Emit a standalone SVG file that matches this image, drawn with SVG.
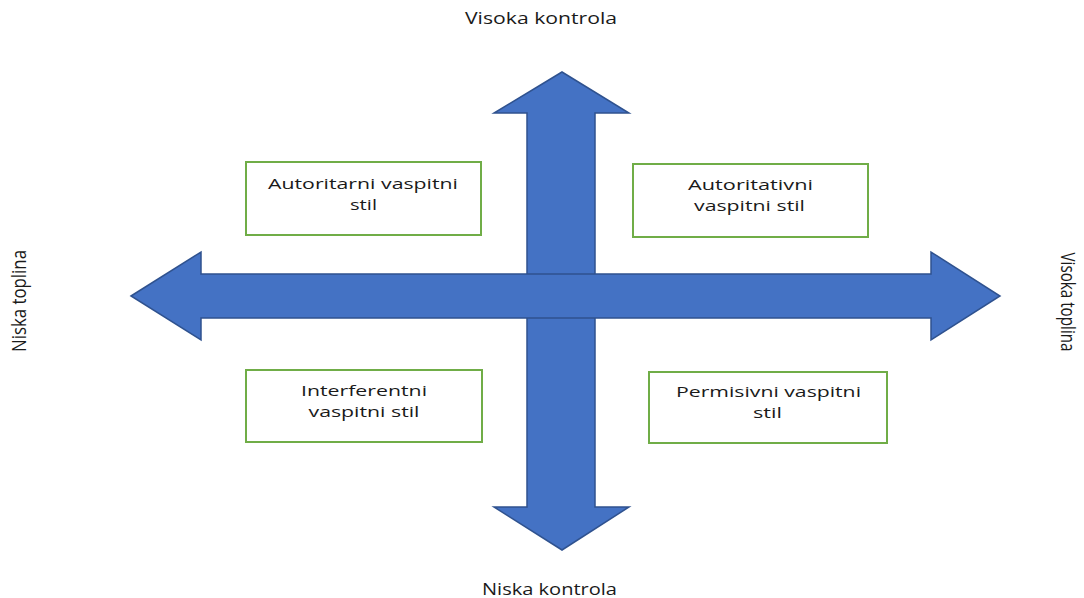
<svg xmlns="http://www.w3.org/2000/svg" width="1084" height="598" viewBox="0 0 1084 598">
<style>
.arrow{fill:#4472C4;stroke:#2F528F;stroke-width:1.5;stroke-linejoin:miter}
.box{fill:#FFFFFF;stroke:#70AD47;stroke-width:2}
.t{font-family:"Open Sans","Noto Sans",sans-serif;font-size:16.5px;fill:#1a1a1a;text-anchor:middle}
.b{font-family:"Open Sans","Noto Sans",sans-serif;font-size:15px;fill:#1a1a1a;text-anchor:middle}
.v{font-family:"Open Sans","Noto Sans",sans-serif;font-size:16px;fill:#1a1a1a;text-anchor:middle}
</style>
<rect width="1084" height="598" fill="#FFFFFF"/>
<g id="connectors">
<polygon class="arrow" points="562,72 629,113 595,113 595,507 629,507 562,550 494,507 527,507 527,113 494,113"/>
<polygon class="arrow" points="131,296 201,252 201,274 931,274 931,252 1000,296 931,340 931,318 201,318 201,340"/>
</g>
<g id="label-top"><text class="t" x="541" y="24" textLength="152" lengthAdjust="spacingAndGlyphs">Visoka kontrola</text></g>
<g id="label-bottom"><text class="t" x="549.5" y="595" textLength="135" lengthAdjust="spacingAndGlyphs">Niska kontrola</text></g>
<g id="label-left"><text class="v" transform="translate(26,301) scale(1.25,1) rotate(-90)" textLength="102" lengthAdjust="spacingAndGlyphs">Niska toplina</text></g>
<g id="label-right"><text class="v" transform="translate(1061,302) scale(1.2,1) rotate(90)" textLength="99" lengthAdjust="spacingAndGlyphs">Visoka toplina</text></g>
<g id="box-autoritarni">
<rect class="box" x="246" y="162" width="235" height="73"/>
<text class="b" x="363" y="188.5" textLength="190" lengthAdjust="spacingAndGlyphs">Autoritarni vaspitni</text>
<text class="b" x="363.5" y="209.5" textLength="27" lengthAdjust="spacingAndGlyphs">stil</text>
</g>
<g id="box-autoritativni">
<rect class="box" x="633" y="164" width="235" height="73"/>
<text class="b" x="750.5" y="189.5" textLength="125" lengthAdjust="spacingAndGlyphs">Autoritativni</text>
<text class="b" x="749.5" y="210.5" textLength="111" lengthAdjust="spacingAndGlyphs">vaspitni stil</text>
</g>
<g id="box-interferentni">
<rect class="box" x="246" y="370" width="236" height="72"/>
<text class="b" x="364" y="395.5" textLength="126" lengthAdjust="spacingAndGlyphs">Interferentni</text>
<text class="b" x="364" y="416.5" textLength="111" lengthAdjust="spacingAndGlyphs">vaspitni stil</text>
</g>
<g id="box-permisivni">
<rect class="box" x="649" y="372" width="238" height="71"/>
<text class="b" x="768.5" y="396.5" textLength="185" lengthAdjust="spacingAndGlyphs">Permisivni vaspitni</text>
<text class="b" x="767.5" y="417.5" textLength="29" lengthAdjust="spacingAndGlyphs">stil</text>
</g>
</svg>
